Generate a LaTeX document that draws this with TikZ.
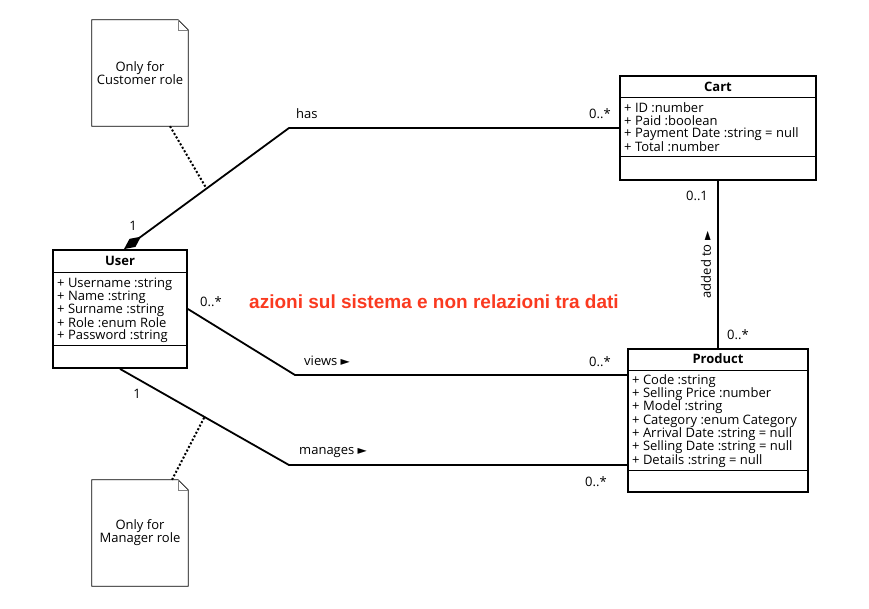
\documentclass[tikz,border=0pt]{standalone}
\usepackage{fontspec}
\setmainfont{Open Sans}
\newfontfamily\symfont{DejaVu Sans}
\newfontfamily\notefont{Liberation Sans}
\usetikzlibrary{arrows.meta,positioning,calc}
\definecolor{warnred}{RGB}{250,58,32}
\newcommand{\rtri}{{\symfont\fontsize{12}{12}\selectfont ►}}

\begin{document}
\begin{tikzpicture}[x=1pt,y=-1pt,>=Stealth,font=\fontsize{13}{13}\selectfont]
\tikzstyle{cls}=[draw,line width=1.8pt,inner sep=0pt]
\tikzstyle{attr}=[anchor=west,inner sep=0pt]
\tikzstyle{ttl}=[font=\fontsize{13}{13}\selectfont\bfseries]
\tikzstyle{assoc}=[line width=1.8pt]
\tikzstyle{noteln}=[line width=2pt,dotted]
\tikzstyle{lbl}=[inner sep=0pt]
\useasboundingbox (0,0) rectangle (869,608);
% classes
\node[cls,minimum width=134pt,minimum height=118pt] (user) at (120,309) {};
\node[ttl] (usertitle) at (120,261) {User};
\draw (user.west |- 0,272) -- (user.east |- 0,272); \draw (user.west |- 0,345) -- (user.east |- 0,345);
\foreach \i/\t in {0/{+ Username :string},1/{+ Name :string},2/{+ Surname :string},3/{+ Role :enum Role},4/{+ Password :string}} \node[attr] at (57,284+\i*13) {\t};
\node[cls,minimum width=196pt,minimum height=104pt] (cart) at (718,128) {};
\node[ttl] (carttitle) at (718,87) {Cart};
\draw (cart.west |- 0,97) -- (cart.east |- 0,97); \draw (cart.west |- 0,156) -- (cart.east |- 0,156);
\foreach \i/\t in {0/{+ ID :number},1/{+ Paid :boolean},2/{+ Payment Date :string = null},3/{+ Total :number}} \node[attr] at (624,108+\i*13) {\t};
\node[cls,minimum width=180pt,minimum height=143pt] (product) at (718,420.5) {};
\node[ttl] (producttitle) at (718,359) {Product};
\draw (product.west |- 0,370) -- (product.east |- 0,370); \draw (product.west |- 0,470) -- (product.east |- 0,470);
\foreach \i/\t in {0/{+ Code :string},1/{+ Selling Price :number},2/{+ Model :string},3/{+ Category :enum Category},4/{+ Arrival Date :string = null},5/{+ Selling Date :string = null},6/{+ Details :string = null}} \node[attr] at (632,381+\i*13.3) {\t};
% notes
\node[minimum width=96pt,minimum height=106pt,align=center] (custnote) at (140,73) {Only for\\Customer role};
\node[minimum width=96pt,minimum height=106pt,align=center] (mgrnote) at (140,533) {Only for\\Manager role};
\foreach \n in {custnote,mgrnote} {
\draw[line width=0.8pt] (\n.south west) -- (\n.north west) -- ($(\n.north east)+(-10,0)$) -- ($(\n.north east)+(0,10)$) -- (\n.south east) -- cycle;
\draw[gray,line width=0.6pt] ($(\n.north east)+(-10,0)$) -- ++(0,10) -- ++(10,0);
}
% associations
\coordinate (hasstart) at ($(user.north)+(4,0)$);
\coordinate (hasbend) at (289,128);
\coordinate (viewsbend) at (295,375);
\coordinate (mgrbend) at (289,465);
\draw[assoc,{Diamond[length=21pt,width=10pt]}-] (hasstart) -- (hasbend) -- (cart.west);
\draw[assoc] (user.east) -- (viewsbend) -- (product.west |- viewsbend);
\draw[assoc] (user.south) -- (mgrbend) -- (product.west |- mgrbend);
\draw[assoc] (cart.south) -- (product.north);
\draw[noteln] ($(custnote.south)+(30,0)$) -- ($(hasstart)!0.5!(hasbend)$);
\draw[noteln] ($(mgrnote.north)+(32,0)$) -- ($(user.south)!0.5!(mgrbend)$);
% labels
\node[lbl,anchor=west] (haslbl) at (296,114) {has};
\node[lbl] (hasmult) at (600,114) {0..*};
\node[lbl] (hasone) at (133,226) {1};
\node[lbl] (viewsmult) at (211,302) {0..*};
\node[lbl,anchor=west] (viewslbl) at (304,361) {views \rtri};
\node[lbl] (viewsmultb) at (600,362) {0..*};
\node[lbl] (mgrone) at (137,394) {1};
\node[lbl,anchor=west] (mgrlbl) at (299,453) {manages \rtri};
\node[lbl] (mgrmult) at (596,482) {0..*};
\node[lbl] (addmult) at (697,196) {0..1};
\node[lbl] (addmultb) at (738,335) {0..*};
\node[lbl,rotate=90] (addlbl) at (706,265) {added to \rtri};
\node[font=\notefont\fontsize{19}{19}\selectfont\bfseries,text=warnred] (remark) at (434,302) {azioni sul sistema e non relazioni tra dati};
\end{tikzpicture}
\end{document}
